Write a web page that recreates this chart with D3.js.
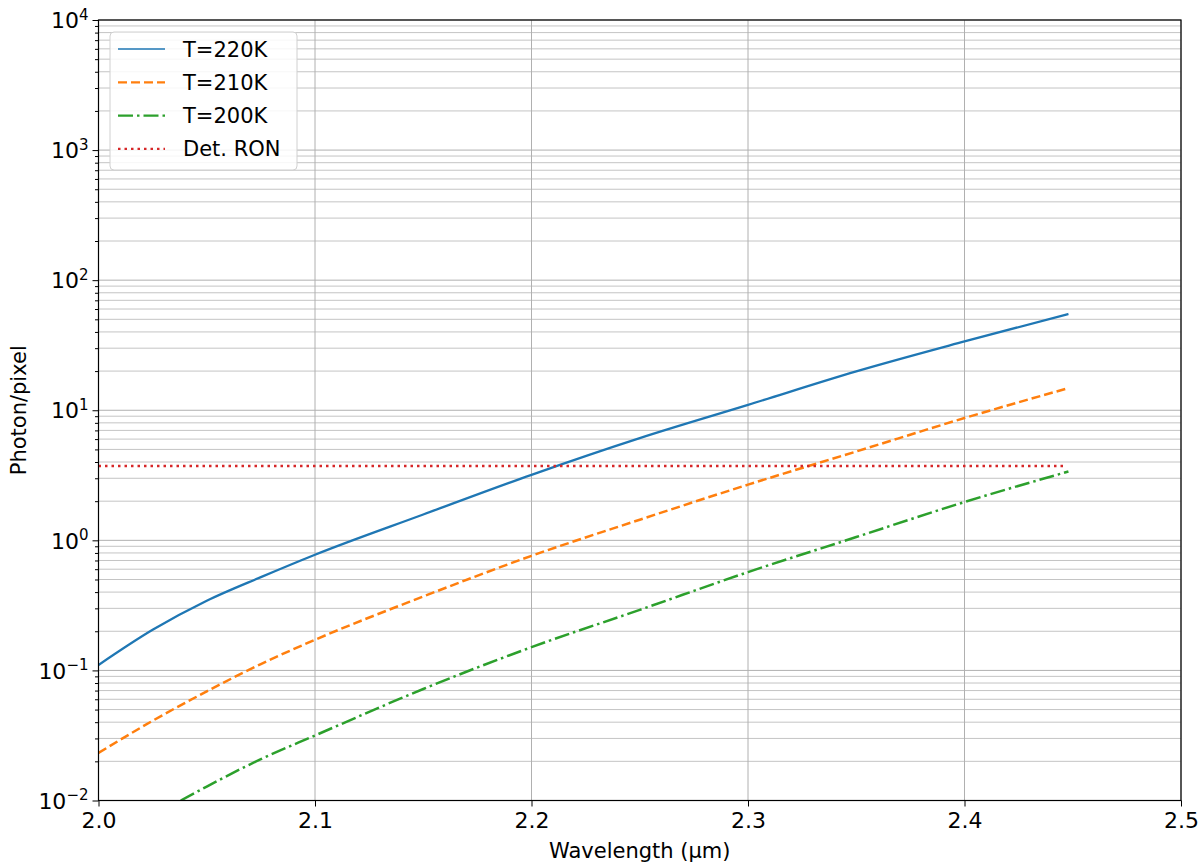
<!DOCTYPE html>
<html>
<head>
<meta charset="utf-8">
<script src="https://cdn.jsdelivr.net/npm/d3@7"></script>
<style>
  body { margin: 0; background: #fff; }
  svg { font-family: "DejaVu Sans", sans-serif; }
</style>
</head>
<body>
<svg id="chart" width="1200" height="868"></svg>
<script>
// values (wavelength in um, photons per pixel)
const wavelength = [2.0, 2.025, 2.05, 2.075, 2.1, 2.15, 2.2, 2.25, 2.3, 2.35, 2.4, 2.448];
const t220 = [0.110, 0.205, 0.343, 0.521, 0.775, 1.58, 3.19, 6.11, 11.0, 19.9, 33.8, 55];
const t210 = [0.0232, 0.041, 0.069, 0.112, 0.172, 0.37, 0.76, 1.44, 2.68, 4.82, 8.71, 14.8];
const wavelengthGreen = [2.038, 2.05, 2.075, 2.1, 2.15, 2.2, 2.25, 2.3, 2.35, 2.4, 2.448];
const t200 = [0.010, 0.0128, 0.0208, 0.0316, 0.072, 0.151, 0.292, 0.57, 1.06, 1.97, 3.38];
const ronLevel = 3.72;
const ronRange = [2.0, 2.447];

const xTicks = [2.0, 2.1, 2.2, 2.3, 2.4, 2.5];
const yExponents = [-2, -1, 0, 1, 2, 3, 4];

const series = [
  { label: "T=220K", x: wavelength, y: t220, color: "#1f77b4", dash: null, width: 2.3 },
  { label: "T=210K", x: wavelength, y: t210, color: "#ff7f0e", dash: "9,4", width: 2.5 },
  { label: "T=200K", x: wavelengthGreen, y: t200, color: "#2ca02c", dash: "15,4,2.5,4", width: 2.5 },
  { label: "Det. RON", x: ronRange, y: [ronLevel, ronLevel], color: "#d62728", dash: "2.5,4", width: 2.5 }
];

const svg = d3.select("#chart");
const pLeft = 98.5, pRight = 1181, pTop = 20, pBottom = 800.5;

const x = d3.scaleLinear().domain([2.0, 2.5]).range([pLeft, pRight]);
const y = d3.scaleLog().domain([1e-2, 1e4]).range([pBottom, pTop]);

// grid: horizontal at major + minor, vertical at major only
let minorVals = [];
for (let e = -2; e < 4; e++) {
  for (let m = 2; m <= 9; m++) minorVals.push(m * Math.pow(10, e));
}
const majorVals = yExponents.map(e => Math.pow(10, e));

const grid = svg.append("g").attr("stroke", "#b0b0b0").attr("stroke-width", 1);
grid.selectAll(".hminor").data(minorVals).enter().append("line")
  .attr("x1", pLeft).attr("x2", pRight)
  .attr("y1", d => y(d)).attr("y2", d => y(d))
  .attr("stroke", "#c4c4c4");
grid.selectAll(".hmajor").data(majorVals).enter().append("line")
  .attr("x1", pLeft).attr("x2", pRight)
  .attr("y1", d => y(d)).attr("y2", d => y(d));
grid.selectAll(".v").data(xTicks).enter().append("line")
  .attr("x1", d => x(d)).attr("x2", d => x(d))
  .attr("y1", pTop).attr("y2", pBottom);

// lines
const line = d3.line()
  .x(d => x(d[0]))
  .y(d => y(d[1]))
  .curve(d3.curveMonotoneX);

svg.append("clipPath").attr("id", "clip")
  .append("rect").attr("x", pLeft).attr("y", pTop)
  .attr("width", pRight - pLeft).attr("height", pBottom - pTop);

const plot = svg.append("g").attr("clip-path", "url(#clip)");
series.forEach(s => {
  plot.append("path")
    .datum(s.x.map((v, i) => [v, s.y[i]]))
    .attr("d", line)
    .attr("fill", "none")
    .attr("stroke", s.color)
    .attr("stroke-width", s.width)
    .attr("stroke-dasharray", s.dash);
});

// axes
const xAxis = d3.axisBottom(x).tickValues(xTicks).tickFormat(d3.format(".1f"))
  .tickSize(6).tickPadding(6);
const gx = svg.append("g").attr("transform", `translate(0,${pBottom})`).call(xAxis);
gx.select(".domain").remove();
gx.selectAll("text").attr("font-size", 22).attr("fill", "#000")
  .attr("font-family", "DejaVu Sans");
gx.selectAll("line").attr("stroke", "#000");

const yAxis = d3.axisLeft(y).tickValues(majorVals).tickFormat("").tickSize(6);
const gy = svg.append("g").attr("transform", `translate(${pLeft},0)`).call(yAxis);
gy.select(".domain").remove();
gy.selectAll("line").attr("stroke", "#000");
gy.selectAll(".tick").each(function(d) {
  const t = d3.select(this).append("text")
    .attr("x", -10).attr("dy", "0.35em")
    .attr("text-anchor", "end").attr("fill", "#000")
    .attr("font-size", 22).attr("font-family", "DejaVu Sans");
  const e = Math.round(Math.log10(d));
  t.append("tspan").text("10");
  t.append("tspan").attr("dy", "-0.55em").attr("font-size", 15)
    .text(e < 0 ? "\u2212" + Math.abs(e) : String(e));
});
const yMinor = d3.axisLeft(y).tickValues(minorVals).tickFormat("").tickSize(3.5);
const gym = svg.append("g").attr("transform", `translate(${pLeft},0)`).call(yMinor);
gym.select(".domain").remove();
gym.selectAll("line").attr("stroke", "#000");

// frame
svg.append("rect")
  .attr("x", pLeft).attr("y", pTop)
  .attr("width", pRight - pLeft).attr("height", pBottom - pTop)
  .attr("fill", "none").attr("stroke", "#000").attr("stroke-width", 1.2);

// axis labels
svg.append("text")
  .attr("x", (pLeft + pRight) / 2).attr("y", 858)
  .attr("text-anchor", "middle").attr("font-size", 21)
  .text("Wavelength (\u03bcm)");
svg.append("text")
  .attr("transform", `translate(26,${(pTop + pBottom) / 2}) rotate(-90)`)
  .attr("text-anchor", "middle").attr("font-size", 21)
  .text("Photon/pixel");

// legend
const legend = svg.append("g");
legend.append("rect")
  .attr("x", 110).attr("y", 32).attr("width", 187).attr("height", 138)
  .attr("rx", 4).attr("fill", "#fff").attr("fill-opacity", 0.85)
  .attr("stroke", "#d0d0d0").attr("stroke-width", 1);
series.forEach((s, i) => {
  const cy = 49 + i * 33.3;
  legend.append("line")
    .attr("x1", 118).attr("x2", 165).attr("y1", cy).attr("y2", cy)
    .attr("stroke", s.color).attr("stroke-width", i === 0 ? 1.6 : 2.2)
    .attr("stroke-dasharray", s.dash);
  legend.append("text")
    .attr("x", 183).attr("y", cy).attr("dy", "0.36em")
    .attr("font-size", 21).text(s.label);
});
</script>
</body>
</html>
